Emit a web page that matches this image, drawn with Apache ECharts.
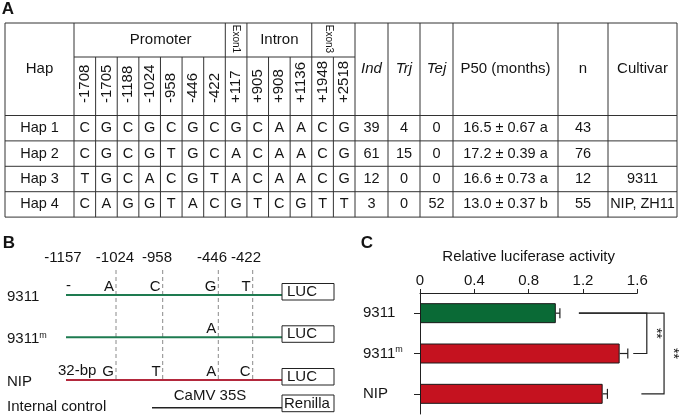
<!DOCTYPE html>
<html><head><meta charset="utf-8">
<script src="https://cdn.jsdelivr.net/npm/echarts@6/dist/echarts.min.js"></script>
<style>html,body{margin:0;padding:0;background:#fff}#c{width:682px;height:420px}</style>
</head><body><div id="c"></div>
<script>
// ---------- Panel A data ----------
const haps = ['Hap 1', 'Hap 2', 'Hap 3', 'Hap 4'];
const regionNames = ['Promoter', 'Exon1', 'Intron', 'Exon3'];
const regionSizes = [7, 1, 3, 2];
const snpPos = ['-1708', '-1705', '-1188', '-1024', '-958', '-446', '-422', '+117', '+905', '+908', '+1136', '+1948', '+2518'];
const hap1 = ['C', 'G', 'C', 'G', 'C', 'G', 'C', 'G', 'C', 'A', 'A', 'C', 'G'];
const hap2 = ['C', 'G', 'C', 'G', 'T', 'G', 'C', 'A', 'C', 'A', 'A', 'C', 'G'];
const hap3 = ['T', 'G', 'C', 'A', 'C', 'G', 'T', 'A', 'C', 'A', 'A', 'C', 'G'];
const hap4 = ['C', 'A', 'G', 'G', 'T', 'A', 'C', 'G', 'T', 'C', 'G', 'T', 'T'];
const ind = [39, 61, 12, 3];
const trj = [4, 15, 0, 0];
const tej = [0, 0, 0, 52];
const p50Mean = [16.5, 17.2, 16.6, 13.0];
const p50Se = [0.67, 0.39, 0.73, 0.37];
const p50Group = ['a', 'a', 'a', 'b'];
const nPlants = [43, 76, 12, 55];
const cultivar = ['', '', '9311', 'NIP, ZH11'];
const extraHeaders = ['Ind', 'Trj', 'Tej', 'P50 (months)', 'n', 'Cultivar'];

// ---------- Panel B data ----------
const bSites = ['-1157', '-1024', '-958', '-446', '-422'];
const bConstructs = ['9311', '9311m', 'NIP'];
const b9311 = ['-', 'A', 'C', 'G', 'T'];
const b9311m = ['', '', '', 'A', ''];
const bNIP = ['32-bp', 'G', 'T', 'A', 'C'];

// ---------- Panel C data ----------
const cCats = ['9311', '9311m', 'NIP'];
const cMean = [1.0, 1.47, 1.345];
const cErr = [0.03, 0.06, 0.035];
const cSig = [['9311', '9311m', '**'], ['9311', 'NIP', '**']];

// ---------- helpers ----------
const FONT = '"Liberation Sans", Arial, Helvetica, sans-serif';
const INK = '#141414';
const RULE = '#333333';
function txt(x, y, s, size, o) {
  o = o || {};
  const st = {
    text: s, fill: o.color || INK,
    font: (o.italic ? 'italic ' : '') + (o.bold ? 'bold ' : '') + size + 'px ' + FONT,
    align: o.align || 'center', verticalAlign: o.va || 'middle',
    textAlign: o.align || 'center', textVerticalAlign: o.va || 'middle'
  };
  if (o.rich) st.rich = o.rich;
  return { type: 'text', x: x, y: y, rotation: o.rot || 0, silent: true, z: 10, style: st };
}
function ln(x1, y1, x2, y2, color, w, dash) {
  return { type: 'line', silent: true, z: 5, shape: { x1: x1, y1: y1, x2: x2, y2: y2 },
    style: { stroke: color || RULE, lineWidth: w || 1, lineDash: dash || null } };
}
function box(x, y, w, h) {
  return { type: 'rect', silent: true, z: 6, shape: { x: x, y: y, width: w, height: h },
    style: { fill: '#fff', stroke: '#222', lineWidth: 1 } };
}

const G = [];
// ---------- Panel A: table ----------
const tLeft = 5, hapRight = 74, snpRight = 355, tTop = 23, tMid = 57, tHead = 115.5, rowH = 25.4;
const extraCols = [355, 388, 420, 453, 558, 608, 677];
const tRight = extraCols[extraCols.length - 1];
const tBottom = tHead + rowH * haps.length;
const cw = (snpRight - hapRight) / snpPos.length;
const colC = i => hapRight + cw * (i + 0.5);

G.push(txt(8, 9, 'A', 17, { bold: true }));
G.push(ln(tLeft, tTop, tRight, tTop));
G.push(ln(hapRight, tMid, snpRight, tMid));
for (let r = 0; r <= haps.length; r++) G.push(ln(tLeft, tHead + r * rowH, tRight, tHead + r * rowH));
G.push(ln(tLeft, tTop, tLeft, tBottom));
G.push(ln(hapRight, tTop, hapRight, tBottom));
const regionBounds = [];
let acc = 0;
regionSizes.forEach(s => { regionBounds.push(acc); acc += s; });
for (let i = 1; i < snpPos.length; i++) {
  const isBound = regionBounds.indexOf(i) >= 0;
  G.push(ln(hapRight + cw * i, isBound ? tTop : tMid, hapRight + cw * i, tBottom));
}
extraCols.forEach(x => G.push(ln(x, tTop, x, tBottom)));
G.push(txt((tLeft + hapRight) / 2, 69, 'Hap', 15));
const regionDx = [11, 0, 0, -5];
regionNames.forEach((nm, k) => {
  const x0 = hapRight + cw * regionBounds[k];
  const cx = x0 + cw * regionSizes[k] / 2 + regionDx[k];
  if (regionSizes[k] <= 2) G.push(txt(cx, 39, nm, 10, { rot: -Math.PI / 2 }));
  else G.push(txt(cx, 40, nm, 15));
});
snpPos.forEach((p, i) => G.push(txt(colC(i), 103, p, 15, { rot: Math.PI / 2, align: 'left' })));
extraHeaders.forEach((h, k) => {
  const cx = (extraCols[k] + extraCols[k + 1]) / 2;
  G.push(txt(cx, 69, h, 15, { italic: k < 3 }));
});
const hapRows = [hap1, hap2, hap3, hap4];
haps.forEach((h, r) => {
  const cy = tHead + rowH * (r + 0.5);
  G.push(txt((tLeft + hapRight) / 2, cy, h, 14.5));
  hapRows[r].forEach((a, i) => G.push(txt(colC(i), cy, a, 14.5)));
  const vals = [String(ind[r]), String(trj[r]), String(tej[r]),
    p50Mean[r].toFixed(1) + ' \u00b1 ' + p50Se[r].toFixed(2) + ' ' + p50Group[r],
    String(nPlants[r]), cultivar[r]];
  vals.forEach((v, k) => {
    if (v) G.push(txt((extraCols[k] + extraCols[k + 1]) / 2, cy, v, 14.5));
  });
});

// ---------- Panel B: constructs ----------
G.push(txt(9, 243, 'B', 17, { bold: true }));
const bSiteLabelX = [63, 115, 157, 212, 246];
const bDashX = [null, 116, 162.7, 218.3, 252.7];
const bLineY = [295, 337.3, 380];
const bColors = ['#1e7b50', '#1e7b50', '#b3283c'];
const bLineStart = 66, bLineEnd = 282, boxW = 52, boxH = 16.5;
const supRich = { sup: { fontSize: 9, verticalAlign: 'top', padding: [0, 0, 7, 0], fill: INK, fontFamily: FONT } };
bSites.forEach((s, i) => G.push(txt(bSiteLabelX[i], 258, s, 15)));
bDashX.forEach(x => { if (x) G.push(ln(x, 270, x, 380, '#8a8a8a', 1, [4, 3])); });
const bAlleles = [b9311, b9311m, bNIP];
bConstructs.forEach((c, r) => {
  const y = bLineY[r];
  const label = c === '9311m' ? '9311{sup|m}' : c;
  G.push(txt(7, y + 2, label, 15, { align: 'left', rich: supRich }));
  G.push(ln(bLineStart, y, bLineEnd, y, bColors[r], 2));
  G.push(box(bLineEnd, y - 11.5, boxW, boxH));
  G.push(txt(bLineEnd + 5, y - 3, 'LUC', 15, { align: 'left' }));
  bAlleles[r].forEach((a, i) => {
    if (!a) return;
    if (i === 0) G.push(txt(a.length > 1 ? 58 : 66, y - 9, a, 15, { align: 'left' }));
    else G.push(txt(bDashX[i] - 2, y - 8.5, a, 15, { align: 'right' }));
  });
});
G.push(txt(7, 407, 'Internal control', 15, { align: 'left' }));
G.push(ln(152, 407.7, bLineEnd, 407.7, '#222', 1.5));
G.push(txt(210, 396, 'CaMV 35S', 15));
G.push(box(bLineEnd, 395, boxW, 16.7));
G.push(txt(bLineEnd + 2, 403.5, 'Renilla', 15, { align: 'left' }));

// ---------- Panel C ----------
G.push(txt(367, 243, 'C', 17, { bold: true }));
const barColors = { '9311': '#0a6a36', '9311m': '#c5121f', 'NIP': '#c5121f' };
const sigX = [1.67, 1.797];
const sigArmA = [1.17, 1.17];
const sigArmB = [1.57, 1.63];

const chart = echarts.init(document.getElementById('c'), null, { renderer: 'canvas' });
chart.setOption({
  animation: false,
  backgroundColor: '#fff',
  textStyle: { fontFamily: FONT },
  grid: { left: 420, top: 293, width: 217.3, height: 121, containLabel: false },
  xAxis: {
    type: 'value', position: 'top', min: 0, max: 1.6, interval: 0.4,
    name: 'Relative luciferase activity', nameLocation: 'middle', nameGap: 29,
    nameTextStyle: { fontSize: 15, color: INK, fontFamily: FONT },
    axisLine: { show: true, lineStyle: { color: '#222', width: 1 } },
    axisTick: { show: true, length: 4, lineStyle: { color: '#222' } },
    axisLabel: { fontSize: 15, color: INK, margin: 5, fontFamily: FONT },
    splitLine: { show: false }
  },
  yAxis: {
    type: 'category', data: cCats, inverse: true,
    axisLine: { show: true, lineStyle: { color: '#222', width: 1 } },
    axisTick: { show: true, alignWithLabel: true, length: 6, lineStyle: { color: '#222' } },
    axisLabel: {
      align: 'left', margin: 57, fontSize: 15, color: INK, fontFamily: FONT,
      formatter: v => v === '9311m' ? '9311{sup|m}' : v,
      rich: { sup: { fontSize: 9, verticalAlign: 'top', padding: [0, 0, 7, 0], color: INK, fontFamily: FONT } }
    }
  },
  series: [
    {
      type: 'bar', barWidth: 20, z: 2,
      data: cMean.map((v, i) => ({ value: v, itemStyle: { color: barColors[cCats[i]], borderColor: '#1a1a1a', borderWidth: 1 } }))
    },
    {
      type: 'custom', z: 3, clip: false,
      data: cMean.map((v, i) => [v, i, cErr[i]]),
      encode: { x: 0, y: 1 },
      renderItem: (params, api) => {
        const p0 = api.coord([api.value(0), api.value(1)]);
        const p1 = api.coord([api.value(0) + api.value(2), api.value(1)]);
        return { type: 'group', children: [
          { type: 'line', shape: { x1: p0[0], y1: p0[1], x2: p1[0], y2: p1[1] }, style: { stroke: '#222', lineWidth: 1.2 } },
          { type: 'line', shape: { x1: p1[0], y1: p1[1] - 5, x2: p1[0], y2: p1[1] + 5 }, style: { stroke: '#222', lineWidth: 1.2 } }
        ] };
      }
    },
    {
      type: 'custom', z: 3, clip: false,
      data: cSig.map(s => [cCats.indexOf(s[0]), cCats.indexOf(s[1])]),
      encode: { x: -1, y: -1 },
      renderItem: (params, api) => {
        const k = params.dataIndex;
        const a = api.value(0), b = api.value(1);
        const pA = api.coord([sigX[k], a]);
        const pB = api.coord([sigX[k], b]);
        const pA0 = api.coord([sigArmA[k], a]);
        const pB0 = api.coord([sigArmB[k], b]);
        return { type: 'group', children: [
          { type: 'polyline', shape: { points: [[pA0[0], pA[1]], [pA[0], pA[1]], [pB[0], pB[1]], [pB0[0], pB[1]]] },
            style: { stroke: '#222', fill: null, lineWidth: 1.2 } },
          { type: 'text', x: pA[0] + 9, y: (pA[1] + pB[1]) / 2, rotation: -Math.PI / 2,
            style: { text: cSig[k][2], fill: INK, font: '14px ' + FONT, align: 'center', verticalAlign: 'middle' } }
        ] };
      }
    }
  ],
  graphic: { elements: G }
});
</script>
</body></html>
